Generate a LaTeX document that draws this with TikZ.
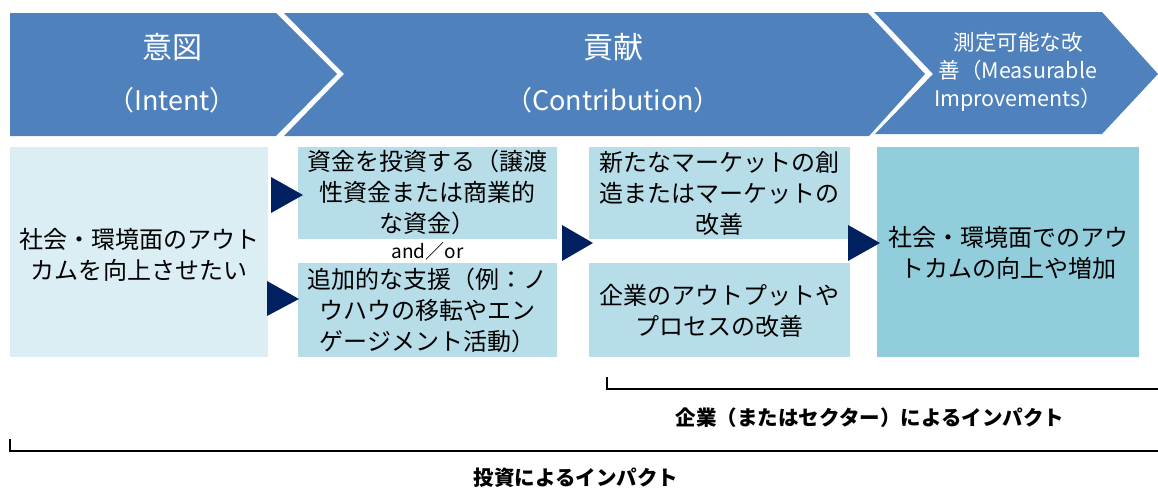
\documentclass[tikz,border=0pt]{standalone}
\usepackage{fontspec}
\setmainfont{Noto Sans CJK JP}
\usetikzlibrary{positioning}
\definecolor{chev}{HTML}{4F81BD}
\definecolor{lightA}{HTML}{DAEEF3}
\definecolor{midB}{HTML}{B7DDE8}
\definecolor{darkD}{HTML}{92CDDC}
\definecolor{navy}{HTML}{002060}
\tikzset{
  chevshape/.style={fill=chev, draw=none},
  chevtext/.style={text=white, align=center, inner sep=0pt},
  boxnode/.style={draw=none, inner sep=0pt, align=center, text=black,
    font=\fontsize{24}{31}\selectfont},
  tri/.style={fill=navy},
  brk/.style={line width=1.6pt, black},
  brklabel/.style={font=\fontsize{20.5}{24}\selectfont\bfseries, inner sep=0pt}
}
\begin{document}
\begin{tikzpicture}[x=1pt,y=-1pt]
\useasboundingbox (0,0) rectangle (1158,488);
% chevrons
\fill[chevshape] (10,13) -- (276,13) -- (337,74) -- (276,136) -- (10,136) -- cycle;
\fill[chevshape] (284,13) -- (868,13) -- (925,74) -- (869,136) -- (284,136) -- (344,74) -- cycle;
\fill[chevshape] (874,12) -- (1102,12) -- (1158,74) -- (1102,134) -- (875,134) -- (933,74) -- cycle;
% chevron titles
\node[chevtext, font=\fontsize{30}{30}\selectfont] (t1a) at (172,47) {意図};
\node[chevtext, font=\fontsize{27}{27}\selectfont] (t1b) at (172,100) {（Intent）};
\node[chevtext, font=\fontsize{30}{30}\selectfont] (t2a) at (613,47) {貢献};
\node[chevtext, font=\fontsize{27}{27}\selectfont] (t2b) at (613,100) {（Contribution）};
\node[chevtext, font=\fontsize{21.5}{28}\selectfont] (t3) at (1018,72) {測定可能な改\\善（Measurable\\Improvements）};
% boxes
\node[boxnode, fill=lightA, minimum width=258pt, minimum height=210pt] (A) at (139,252) {};
\node[boxnode] at (139,255) {社会・環境面のアウト\\カムを向上させたい};
\node[boxnode, fill=midB, minimum width=259pt, minimum height=92pt] (B1) at (427.5,193) {};
\node[boxnode] at (427.5,192) {資金を投資する（譲渡\\性資金または商業的\\な資金）};
\node[boxnode, fill=midB, minimum width=259pt, minimum height=94pt] (B2) at (427.5,310) {};
\node[boxnode] at (427.5,310) {追加的な支援（例：ノ\\ウハウの移転やエン\\ゲージメント活動）};
\node[inner sep=0pt, font=\fontsize{19}{19}\selectfont] (andor) at (427.5,251) {and／or};
\node[boxnode, fill=midB, minimum width=261pt, minimum height=92pt] (C1) at (719.5,193) {};
\node[boxnode] at (719.5,193) {新たなマーケットの創\\造またはマーケットの\\改善};
\node[boxnode, fill=midB, minimum width=261pt, minimum height=94pt] (C2) at (719.5,310) {};
\node[boxnode] at (719.5,311) {企業のアウトプットや\\プロセスの改善};
\node[boxnode, fill=darkD, minimum width=262pt, minimum height=210pt] (D) at (1008,252) {};
\node[boxnode] at (1008,253) {社会・環境面でのアウ\\トカムの向上や増加};
% triangles
\fill[tri] (271,177) -- (303,195) -- (271,213) -- cycle;
\fill[tri] (267,281) -- (299,299) -- (267,316) -- cycle;
\fill[tri] (562,225) -- (593,243) -- (562,261) -- cycle;
\fill[tri] (848,225) -- (880,243) -- (848,261) -- cycle;
% brackets
\draw[brk] (607,377) -- (607,389) -- (1158,389);
\node[brklabel] (L1) at (870,418) {企業（またはセクター）によるインパクト};
\draw[brk] (10,439) -- (10,451) -- (1158,451);
\node[brklabel] (L2) at (576,478) {投資によるインパクト};
\end{tikzpicture}
\end{document}
